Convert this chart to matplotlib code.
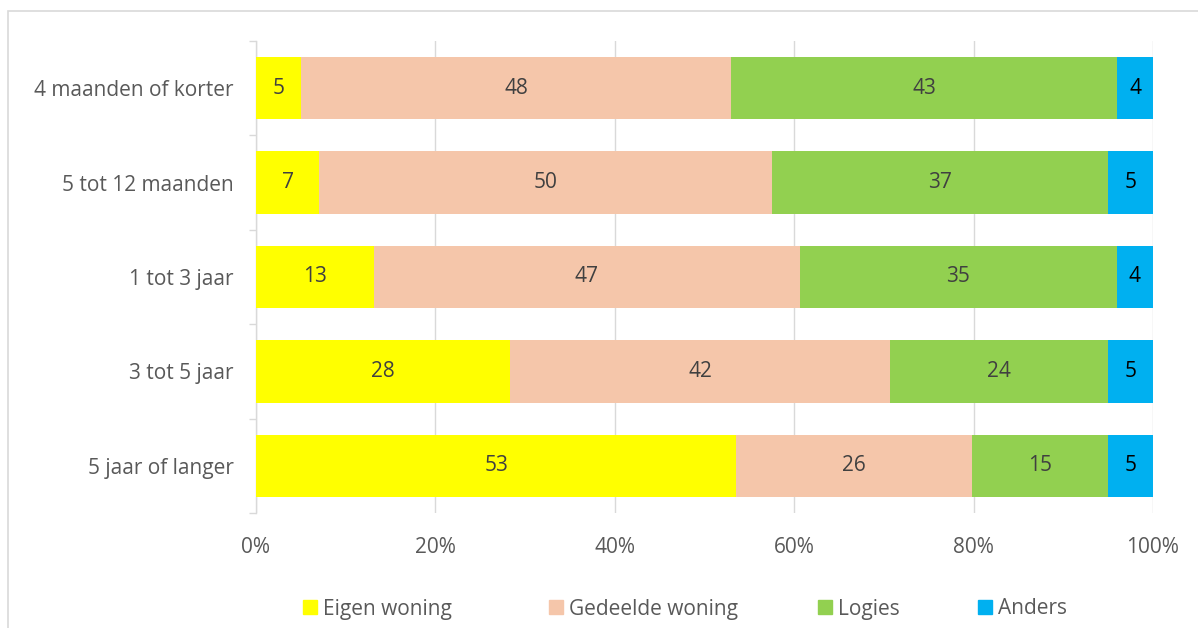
import numpy as np
import matplotlib.pyplot as plt
from matplotlib.patches import Patch

# categories (top to bottom) and series values (percent, as labelled)
categories = ['4 maanden of korter', '5 tot 12 maanden', '1 tot 3 jaar',
              '3 tot 5 jaar', '5 jaar of langer']
series = ['Eigen woning', 'Gedeelde woning', 'Logies', 'Anders']
eigen = [5, 7, 13, 28, 53]
gedeeld = [48, 50, 47, 42, 26]
logies = [43, 37, 35, 24, 15]
anders = [4, 5, 4, 5, 5]
colors = ['#FFFF00', '#F5C6AA', '#92D050', '#00B0F0']
label_colors = ['#404040', '#404040', '#404040', '#000000']

plt.rcParams['font.family'] = ['Open Sans', 'DejaVu Sans']
fs = 15

data = np.array([eigen, gedeeld, logies, anders], dtype=float)
share = data / data.sum(axis=0) * 100

fig = plt.figure(figsize=(11.98, 6.28), dpi=100)
ax = fig.add_axes([256/1198, 1-513/628, (1153-256)/1198, (513-41)/628])

# outer chart frame
fig.add_artist(plt.Rectangle((8/1198, -0.1), 1.2, 1-11/628+0.1, transform=fig.transFigure,
                             fill=False, edgecolor='#D9D9D9', linewidth=1.2))

y = np.arange(len(categories))
left = np.zeros(len(categories))
for i, name in enumerate(series):
    bars = ax.barh(y, share[i], left=left, height=0.66, color=colors[i],
                   label=name, zorder=3)
    for j, b in enumerate(bars):
        ax.text(left[j] + share[i][j] / 2, y[j], f'{int(data[i][j])}',
                ha='center', va='center', fontsize=fs, color=label_colors[i], zorder=4)
    left += share[i]

ax.set_xlim(0, 100)
ax.set_ylim(len(categories) - 0.5, -0.5)
ax.set_xticks(np.arange(0, 101, 20))
ax.set_xticklabels([f'{v}%' for v in range(0, 101, 20)])
ax.set_yticks(y)
ax.set_yticklabels(categories)
ax.set_yticks(np.arange(-0.5, len(categories), 1), minor=True)
ax.tick_params(axis='y', which='major', length=0, pad=16, labelsize=fs, labelcolor='#595959')
ax.tick_params(axis='y', which='minor', length=5, color='#D9D9D9', width=1)
ax.tick_params(axis='x', length=0, pad=17, labelsize=fs, labelcolor='#595959')
ax.grid(axis='x', color='#D9D9D9', linewidth=1, zorder=0)
for s in ['top', 'right', 'bottom']:
    ax.spines[s].set_visible(False)
ax.spines['left'].set_color('#D9D9D9')
ax.spines['left'].set_linewidth(1)

# legend entries placed like the original (one small legend per entry)
legend_x = [303, 549, 818, 978]
for i, name in enumerate(series):
    leg = fig.legend(handles=[Patch(color=colors[i], label=name)], loc='center left',
                     bbox_to_anchor=(legend_x[i]/1198, 1-609/628), frameon=False,
                     fontsize=fs, handlelength=0.65, handleheight=0.65,
                     handletextpad=0.3, borderpad=0, borderaxespad=0)
    for t in leg.get_texts():
        t.set_color('#595959')

fig.savefig('out.png', dpi=100)
